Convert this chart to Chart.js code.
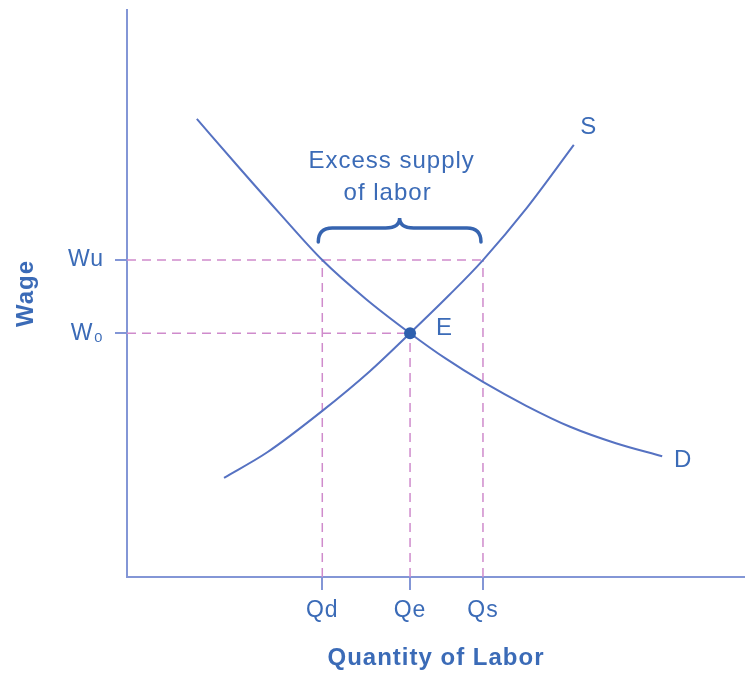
<!DOCTYPE html>
<html>
<head>
<meta charset="utf-8">
<script src="https://cdn.jsdelivr.net/npm/chart.js@4.4.1/dist/chart.umd.min.js"></script>
<style>
  html, body { margin: 0; padding: 0; background: #fff; }
  #wrap { width: 745px; height: 673px; position: relative; }
</style>
</head>
<body>
<div id="wrap"><canvas id="labor"></canvas></div>
<script>
// Tick positions and labels on the two axes
const quantityTicks = [31.6, 45.8, 57.6];
const quantityLabels = ['Qd', 'Qe', 'Qs'];
const wageTicks = [43.0, 55.9];
const wageLabels = ['W\u2080', 'Wu'];

// Demand curve D (quantity, wage)
const demandQ = [11.3, 18.3, 24.8, 31.6, 38.7, 45.8, 51.6, 57.6, 64.6, 71.7, 79.1, 86.6];
const demandW = [80.8, 72.0, 64.0, 55.9, 49.0, 43.0, 38.5, 34.4, 30.2, 26.5, 23.6, 21.3];
// Supply curve S
const supplyQ = [15.7, 22.7, 31.6, 39.3, 45.8, 52.3, 57.6, 64.7, 72.3];
const supplyW = [17.5, 22.0, 29.3, 36.3, 43.0, 49.9, 55.9, 65.1, 76.2];

const TEXT = '#3b6bb7';
const CURVE = '#5672c2';
const AXIS = '#8396d6';
const DASH = '#cf8bcc';
const FAMILY = "'Liberation Sans', Arial, sans-serif";

const [qd, qe, qs] = quantityTicks;
const [w0, wu] = wageTicks;

const toPoints = (xs, ys) => xs.map((v, i) => ({x: v, y: ys[i]}));

function guide(points) {
  return {
    data: points,
    borderColor: DASH,
    borderWidth: 1.5,
    borderDash: [9, 6],
    pointRadius: 0,
    fill: false
  };
}

function curve(points) {
  return {
    data: points,
    borderColor: CURVE,
    borderWidth: 2,
    pointRadius: 0,
    cubicInterpolationMode: 'monotone',
    fill: false
  };
}

// labels, brace and text drawn on top of the plot
const annotations = {
  id: 'annotations',
  beforeDraw(chart) {
    chart.ctx.letterSpacing = '1px';
  },
  afterDatasetsDraw(chart) {
    const {ctx, scales: {x, y}} = chart;
    ctx.save();
    ctx.letterSpacing = '1px';

    // curly brace between Qd and Qs above the Wu line
    const xl = x.getPixelForValue(qd) - 4;
    const xr = x.getPixelForValue(qs) - 2;
    const xc = (xl + xr) / 2;
    const base = y.getPixelForValue(wu);
    const yEnd = base - 18, yBar = base - 32, yTip = base - 42;
    ctx.strokeStyle = '#3664b0';
    ctx.lineWidth = 3.5;
    ctx.lineCap = 'round';
    ctx.beginPath();
    ctx.moveTo(xl, yEnd);
    ctx.quadraticCurveTo(xl, yBar, xl + 14, yBar);
    ctx.lineTo(xc - 14, yBar);
    ctx.quadraticCurveTo(xc, yBar, xc, yTip);
    ctx.quadraticCurveTo(xc, yBar, xc + 14, yBar);
    ctx.lineTo(xr - 14, yBar);
    ctx.quadraticCurveTo(xr, yBar, xr, yEnd);
    ctx.stroke();

    ctx.fillStyle = TEXT;
    ctx.font = '24px ' + FAMILY;
    ctx.textBaseline = 'middle';
    ctx.textAlign = 'center';
    ctx.fillText('Excess supply', xc - 8, base - 99);
    ctx.fillText('of labor', xc - 12, base - 67);

    const sEnd = supplyQ.length - 1, dEnd = demandQ.length - 1;
    ctx.fillText('S', x.getPixelForValue(supplyQ[sEnd]) + 15, y.getPixelForValue(supplyW[sEnd]) - 18);
    ctx.fillText('D', x.getPixelForValue(demandQ[dEnd]) + 21, y.getPixelForValue(demandW[dEnd]) + 4);

    ctx.textAlign = 'left';
    ctx.fillText('E', x.getPixelForValue(qe) + 26, y.getPixelForValue(w0) - 5);
    ctx.restore();
  }
};

new Chart(document.getElementById('labor'), {
  type: 'line',
  data: {
    datasets: [
      {
        data: [{x: qe, y: w0}],
        showLine: false,
        pointRadius: 6,
        pointBackgroundColor: '#2d5fae',
        pointBorderColor: '#2d5fae',
        pointBorderWidth: 0
      },
      curve(toPoints(demandQ, demandW)),
      curve(toPoints(supplyQ, supplyW)),
      guide([{x: 0, y: wu}, {x: qs, y: wu}]),
      guide([{x: 0, y: w0}, {x: qe, y: w0}]),
      guide([{x: qd, y: 0}, {x: qd, y: wu}]),
      guide([{x: qe, y: 0}, {x: qe, y: w0}]),
      guide([{x: qs, y: 0}, {x: qs, y: wu}])
    ]
  },
  options: {
    responsive: true,
    maintainAspectRatio: false,
    animation: false,
    layout: {autoPadding: false, padding: {top: 10, right: 0, bottom: 0, left: 0}},
    plugins: {legend: {display: false}, tooltip: {enabled: false}},
    scales: {
      x: {
        type: 'linear',
        min: 0,
        max: 100,
        afterBuildTicks: s => { s.ticks = quantityTicks.map(v => ({value: v})); },
        afterFit: s => {
          s.height = 96;
          s.paddingLeft = 0;
          s.paddingRight = 0;
        },
        border: {display: true, color: AXIS, width: 2},
        grid: {drawOnChartArea: false, drawTicks: true, tickLength: 13, color: AXIS, lineWidth: 2},
        ticks: {
          autoSkip: false,
          maxRotation: 0,
          padding: 7,
          color: TEXT,
          font: {family: FAMILY, size: 23},
          callback: (v, i) => quantityLabels[i]
        },
        title: {
          display: true,
          text: 'Quantity of Labor',
          color: TEXT,
          font: {family: FAMILY, size: 24, weight: 'bold'},
          padding: {top: 0, bottom: 0}
        }
      },
      y: {
        type: 'linear',
        min: 0,
        max: 100,
        afterBuildTicks: s => { s.ticks = wageTicks.map(v => ({value: v})); },
        afterFit: s => {
          s.width = 127;
          s.paddingTop = 0;
          s.paddingBottom = 0;
        },
        border: {display: true, color: AXIS, width: 2},
        grid: {drawOnChartArea: false, drawTicks: true, tickLength: 12, color: AXIS, lineWidth: 2},
        ticks: {
          autoSkip: false,
          padding: 11,
          color: TEXT,
          font: {family: FAMILY, size: 23},
          callback: (v, i) => wageLabels[i]
        },
        title: {
          display: true,
          text: 'Wage',
          color: TEXT,
          font: {family: FAMILY, size: 24, weight: 'bold'},
          padding: {top: 12, bottom: 0}
        }
      }
    }
  },
  plugins: [annotations]
});
</script>
</body>
</html>
